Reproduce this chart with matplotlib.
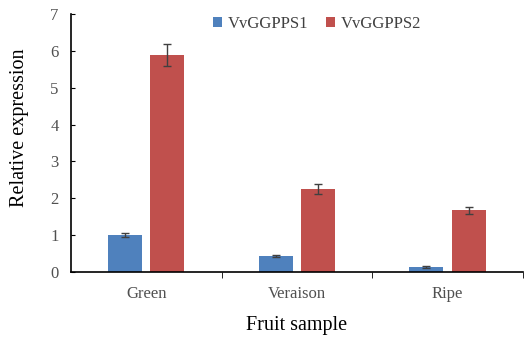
import matplotlib
matplotlib.use("Agg")
import matplotlib.pyplot as plt
import numpy as np

categories = ["Green", "Veraison", "Ripe"]
series_names = ["VvGGPPS1", "VvGGPPS2"]
vvggpps1 = [1.00, 0.44, 0.145]
vvggpps1_err = [0.05, 0.03, 0.03]
vvggpps2 = [5.88, 2.25, 1.67]
vvggpps2_err = [0.30, 0.13, 0.09]
yticks = [0, 1, 2, 3, 4, 5, 6, 7]

plt.rcParams['font.family'] = ['Liberation Serif', 'DejaVu Serif']

fig = plt.figure(figsize=(5.26, 3.38), dpi=100)
ax = fig.add_axes([0.135, 0.195, 0.859, 0.764])

x = np.arange(len(categories))
w = 0.226
off = 0.14
ekw = dict(ecolor="#404040", elinewidth=1.0, capsize=3, capthick=1.0)
ax.bar(x - off, vvggpps1, w, yerr=vvggpps1_err, color="#4F81BD", label=series_names[0], error_kw=ekw)
ax.bar(x + off, vvggpps2, w, yerr=vvggpps2_err, color="#C0504D", label=series_names[1], error_kw=ekw)

ax.set_xlim(-0.5, 2.5)
ax.set_ylim(0, 7)
ax.set_yticks(yticks)
ax.set_xticks(x)
ax.set_xticklabels(categories)
ax.set_xticks([0.5, 1.5, 2.5], minor=True)
ax.tick_params(axis='x', which='major', length=0, pad=10, labelsize=12, labelcolor="#505050")
ax.tick_params(axis='x', which='minor', length=4, direction='out', color='black')
ax.tick_params(axis='y', length=3, direction='in', labelsize=12, labelcolor="#505050", pad=9)
for s in ["top", "right"]:
    ax.spines[s].set_visible(False)
ax.spines["left"].set_color("black")
ax.spines["bottom"].set_color("black")
ax.spines["left"].set_linewidth(1.2)
ax.spines["bottom"].set_linewidth(1.2)

ax.set_ylabel("Relative expression", fontsize=14.5)
ax.yaxis.set_label_coords(-0.093, 0.56)
ax.set_xlabel("Fruit sample", fontsize=14.5, labelpad=10)

ax.legend(loc="upper center", bbox_to_anchor=(0.545, 1.05), ncol=2, frameon=False,
          fontsize=12, handlelength=0.5, handleheight=0.5, handletextpad=0.35,
          columnspacing=1.1, labelcolor="#404040")

fig.savefig("out.png", dpi=100)
